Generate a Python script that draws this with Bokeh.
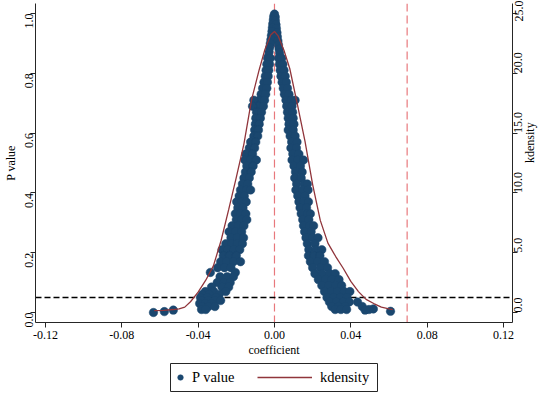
import math
from bokeh.plotting import figure
from bokeh.layouts import column
from bokeh.models import (Range1d, LinearAxis, FixedTicker, Span, Legend,
                          LegendItem, ColumnDataSource)
from bokeh.embed import file_html
from bokeh.resources import INLINE

# ---------------- data ----------------
x_ticks = [-0.12, -0.08, -0.04, 0.0, 0.04, 0.08, 0.12]
x_tick_labels = ["-0.12", "-0.08", "-0.04", "0.00", "0.04", "0.08", "0.12"]
y_ticks = [0.0, 0.2, 0.4, 0.6, 0.8, 1.0]
y_tick_labels = ["0.0", "0.2", "0.4", "0.6", "0.8", "1.0"]
kd_ticks = [0.0, 5.0, 10.0, 15.0, 20.0, 25.0]
kd_tick_labels = ["0.0", "5.0", "10.0", "15.0", "20.0", "25.0"]

# apex of the scatter (single band)
top_coef = [0.0000, -0.0004, 0.0004, -0.0006, 0.0005, -0.0009, 0.0008, -0.0011,
            0.0010, -0.0013, 0.0013, -0.0016, 0.0015, -0.0019, 0.0018, -0.0022,
            0.0021, -0.0025, 0.0024, -0.0028, 0.0027, -0.0031, 0.0030]
top_p = [0.998, 0.990, 0.988, 0.978, 0.975, 0.965, 0.962, 0.952,
         0.950, 0.940, 0.936, 0.926, 0.922, 0.912, 0.908, 0.899,
         0.895, 0.886, 0.881, 0.872, 0.868, 0.858, 0.853]

# left branch: (P value, coefficients at that P value)
left_rows = [
    (0.85, [-0.0036, -0.0022]), (0.83, [-0.0040, -0.0026]),
    (0.81, [-0.0044, -0.0030]), (0.79, [-0.0048, -0.0033]),
    (0.77, [-0.0055, -0.0037]), (0.75, [-0.0062, -0.0040]),
    (0.73, [-0.0070, -0.0046]), (0.71, [-0.0080, -0.0052, -0.0108]),
    (0.69, [-0.0088, -0.0058, -0.0115]), (0.67, [-0.0094, -0.0068]),
    (0.65, [-0.0098, -0.0074]), (0.63, [-0.0100, -0.0080]),
    (0.61, [-0.0104, -0.0084]), (0.59, [-0.0108, -0.0088]),
    (0.57, [-0.0125, -0.0098]), (0.55, [-0.0132, -0.0104]),
    (0.53, [-0.0150, -0.0115]), (0.51, [-0.0155, -0.0125, -0.0095]),
    (0.49, [-0.0145, -0.0112]), (0.47, [-0.0152, -0.0122]),
    (0.45, [-0.0160, -0.0132]), (0.43, [-0.0168, -0.0140]),
    (0.41, [-0.0178, -0.0148, -0.0125]), (0.39, [-0.0185, -0.0158]),
    (0.37, [-0.0198, -0.0172, -0.0148]), (0.35, [-0.0192, -0.0165]),
    (0.33, [-0.0205, -0.0178, -0.0150]), (0.31, [-0.0200, -0.0172, -0.0145]),
    (0.29, [-0.0222, -0.0190, -0.0160]), (0.27, [-0.0238, -0.0205, -0.0172]),
    (0.25, [-0.0228, -0.0195, -0.0162]),
    (0.23, [-0.0255, -0.0225, -0.0195, -0.0168]),
    (0.21, [-0.0275, -0.0245, -0.0212, -0.0182]),
    (0.19, [-0.0268, -0.0235, -0.0200]),
    (0.17, [-0.0282, -0.0250, -0.0215, -0.0178]),
    (0.15, [-0.0298, -0.0262, -0.0228]), (0.134, [-0.0336, -0.0205]),
    (0.12, [-0.0285, -0.0248, -0.0215]), (0.10, [-0.0300, -0.0265, -0.0232]),
    (0.085, [-0.0330, -0.0275, -0.0240]), (0.07, [-0.0362, -0.0318, -0.0255]),
    (0.06, [-0.0378, -0.0342, -0.0290]), (0.05, [-0.0388, -0.0352, -0.0305]),
    (0.04, [-0.0382, -0.0348, -0.0312, -0.0282]),
    (0.03, [-0.0392, -0.0362, -0.0330]), (0.02, [-0.0378, -0.0346, -0.0312]),
    (0.01, [-0.0382, -0.0360]),
    (0.008, [-0.0530]), (0.003, [-0.0577]), (0.000, [-0.0634]),
]

# right branch: (P value, coefficients at that P value)
right_rows = [
    (0.85, [0.0022, 0.0038]), (0.83, [0.0026, 0.0044]),
    (0.81, [0.0030, 0.0050]), (0.79, [0.0034, 0.0056]),
    (0.77, [0.0040, 0.0062]), (0.75, [0.0046, 0.0068]),
    (0.73, [0.0052, 0.0076]), (0.71, [0.0060, 0.0088, 0.0108]),
    (0.69, [0.0064, 0.0092]), (0.67, [0.0068, 0.0095]),
    (0.65, [0.0072, 0.0098]), (0.63, [0.0076, 0.0102]),
    (0.61, [0.0072, 0.0098]), (0.59, [0.0082, 0.0108]),
    (0.57, [0.0090, 0.0118]), (0.55, [0.0086, 0.0115]),
    (0.53, [0.0096, 0.0128]), (0.51, [0.0092, 0.0122, 0.0152]),
    (0.49, [0.0102, 0.0136]), (0.47, [0.0110, 0.0145]),
    (0.45, [0.0106, 0.0140]), (0.43, [0.0116, 0.0156, 0.0172]),
    (0.41, [0.0112, 0.0146, 0.0176]), (0.39, [0.0122, 0.0160]),
    (0.37, [0.0128, 0.0155, 0.0178]), (0.35, [0.0134, 0.0168]),
    (0.33, [0.0140, 0.0172, 0.0188]), (0.31, [0.0148, 0.0180]),
    (0.29, [0.0152, 0.0185, 0.0205]), (0.27, [0.0158, 0.0192]),
    (0.25, [0.0165, 0.0200, 0.0228]), (0.23, [0.0172, 0.0212]),
    (0.21, [0.0180, 0.0218, 0.0248]), (0.19, [0.0178, 0.0208, 0.0238]),
    (0.17, [0.0188, 0.0225, 0.0262]), (0.15, [0.0200, 0.0240, 0.0278]),
    (0.13, [0.0212, 0.0250, 0.0290, 0.0318]),
    (0.11, [0.0230, 0.0268, 0.0300, 0.0338]),
    (0.09, [0.0248, 0.0285, 0.0322, 0.0352]),
    (0.07, [0.0262, 0.0298, 0.0330, 0.0365, 0.0395]),
    (0.05, [0.0275, 0.0310, 0.0345, 0.0380]),
    (0.035, [0.0288, 0.0325, 0.0360, 0.0392, 0.0435]),
    (0.02, [0.0300, 0.0335, 0.0370, 0.0460]),
    (0.01, [0.0318, 0.0348, 0.0378]),
    (0.012, [0.0518]), (0.010, [0.0495]), (0.008, [0.0475]), (0.004, [0.0608]),
]

# kernel density of the coefficients (right axis)
kd_x = [-0.063, -0.058, -0.053, -0.050, -0.047, -0.044, -0.040, -0.036, -0.032,
        -0.028, -0.024, -0.020, -0.016, -0.012, -0.008, -0.005, -0.002, 0.000,
        0.002, 0.005, 0.008, 0.012, 0.016, 0.020, 0.024, 0.028, 0.032, 0.036,
        0.040, 0.044, 0.048, 0.052, 0.056, 0.060, 0.062]
kd_y = [0.15, 0.18, 0.25, 0.30, 0.45, 0.90, 1.70, 2.70, 3.90,
        6.00, 8.60, 11.3, 14.1, 17.8, 20.3, 22.0, 23.2, 23.5,
        23.1, 21.9, 20.4, 17.4, 14.3, 10.7, 7.7, 5.8, 4.7, 3.7,
        2.6, 1.75, 1.10, 0.75, 0.45, 0.30, 0.25]

true_coef = 0.0695     # red dashed reference line
p_cut = 0.05           # black dashed line

# ---------------- build ----------------
coef = list(top_coef)
pval = list(top_p)
for pv, cs in left_rows + right_rows:
    for c in cs:
        coef.append(c)
        pval.append(pv)

FONT = "Liberation Serif"
NAVY = "#1a476f"
MAROON = "#90353b"
AX = "#262626"
PINK = "#e8787c"

W = 550
H_MAIN = 359
H_LEG = 36
FRAME_W = 477          # plot frame width (35 .. 512 px)

y_lo, y_hi = -0.0334, 1.0334
p = figure(width=W, height=H_MAIN, output_backend="svg", toolbar_location=None,
           x_range=Range1d(-0.1252, 0.1247), y_range=Range1d(y_lo, y_hi),
           min_border_left=35, min_border_right=38, min_border_top=3,
           min_border_bottom=37)
p.extra_y_ranges = {"kd": Range1d(y_lo * 25, y_hi * 25)}
p.outline_line_color = None
p.grid.visible = False
p.background_fill_color = "white"
p.border_fill_color = "white"

p.add_layout(Span(location=0.0, dimension="height", line_color=PINK,
                  line_dash="8 4", line_width=1.2, level="underlay"))
p.add_layout(Span(location=true_coef, dimension="height", line_color=PINK,
                  line_dash="8 4", line_width=1.2, level="underlay"))
p.add_layout(Span(location=p_cut, dimension="width", line_color="black",
                  line_dash="6 3", line_width=1.4, level="underlay"))

src = ColumnDataSource(dict(coef=coef, pval=pval))
kd_src = ColumnDataSource(dict(x=kd_x, y=kd_y))
sc = p.scatter("coef", "pval", source=src, size=8.5, fill_color=NAVY,
               line_color=NAVY, line_width=0.5)
kd = p.line("x", "y", source=kd_src, y_range_name="kd", line_color=MAROON,
            line_width=1.3)


def style(ax):
    ax.axis_line_color = AX
    ax.major_tick_line_color = AX
    ax.minor_tick_line_color = None
    ax.major_tick_out = 5
    ax.major_tick_in = 0
    ax.major_label_text_font = FONT
    ax.major_label_text_font_size = "12px"
    ax.major_label_text_color = "black"
    ax.axis_label_text_font = FONT
    ax.axis_label_text_font_size = "12px"
    ax.axis_label_text_font_style = "normal"
    ax.axis_label_text_color = "black"
    ax.major_label_standoff = 2
    ax.axis_label_standoff = 2


xa = p.xaxis[0]
style(xa)
xa.ticker = FixedTicker(ticks=x_ticks)
xa.major_label_overrides = dict(zip(x_ticks, x_tick_labels))
xa.axis_label = "coefficient"
xa.major_label_standoff = 3
xa.axis_label_standoff = 1

ya = p.yaxis[0]
style(ya)
ya.ticker = FixedTicker(ticks=y_ticks)
ya.major_label_overrides = dict(zip(y_ticks, y_tick_labels))
ya.major_label_orientation = math.pi / 2
ya.axis_label = "P value"
ya.major_label_standoff = 1
ya.axis_label_standoff = 1

ra = LinearAxis(y_range_name="kd")
style(ra)
ra.ticker = FixedTicker(ticks=kd_ticks)
ra.major_label_overrides = dict(zip(kd_ticks, kd_tick_labels))
ra.major_label_orientation = math.pi / 2
ra.major_label_standoff = 1
p.add_layout(ra, "right")

# right-hand title, written bottom-to-top like the left one
rt = LinearAxis(y_range_name="kd")
rt.ticker = FixedTicker(ticks=[12.5])
rt.major_label_overrides = {12.5: "kdensity"}
rt.major_label_orientation = math.pi / 2
rt.major_label_text_font = FONT
rt.major_label_text_font_size = "12px"
rt.major_label_text_color = "black"
rt.major_label_standoff = 0
rt.axis_line_color = None
rt.major_tick_line_color = None
rt.minor_tick_line_color = None
rt.major_tick_out = 0
rt.major_tick_in = 0
p.add_layout(rt, "right")

# ---------------- legend strip below ----------------
# pixel-like ranges for the legend box; the legend's sample renderers use the
# same data on far-away ranges, so only their legend swatches are visible
lg = figure(width=W, height=H_LEG, output_backend="svg", toolbar_location=None,
            x_range=Range1d(0, FRAME_W), y_range=Range1d(0, H_LEG),
            x_axis_location=None, y_axis_location=None,
            min_border=0, outline_line_color=None)
lg.extra_x_ranges = {"far": Range1d(10, 11)}
lg.extra_y_ranges = {"far": Range1d(10, 11)}
lg.grid.visible = False
lg.background_fill_color = "white"
lg.border_fill_color = "white"

# legend frame box
lg.quad(left=[135], right=[342], bottom=[4], top=[32], fill_color="white",
        line_color=AX, line_width=1)

l_sc = lg.scatter("coef", "pval", source=src, size=8.5, fill_color=NAVY,
                  line_color=NAVY, line_width=0.5,
                  x_range_name="far", y_range_name="far")
l_ln = lg.line("x", "y", source=kd_src, line_color=MAROON, line_width=1.3,
               x_range_name="far", y_range_name="far")


def make_legend(label, rend, gw, standoff, loc):
    lgd = Legend(items=[LegendItem(label=label, renderers=[rend])],
                 orientation="horizontal", location=loc)
    lgd.label_text_font = FONT
    lgd.label_text_font_size = "14.5px"
    lgd.label_text_color = "black"
    lgd.glyph_width = gw
    lgd.glyph_height = 18
    lgd.label_height = 18
    lgd.label_standoff = standoff
    lgd.padding = 0
    lgd.margin = 0
    lgd.border_line_color = None
    lgd.background_fill_alpha = 0.0
    return lgd


lg.add_layout(make_legend("P value", l_sc, 14, 5, (138, 9)), "center")
lg.add_layout(make_legend("kdensity", l_ln, 55, 8, (222, 9)), "center")

page = column(p, lg, spacing=0)
open("out.html", "w").write(file_html(page, INLINE))
